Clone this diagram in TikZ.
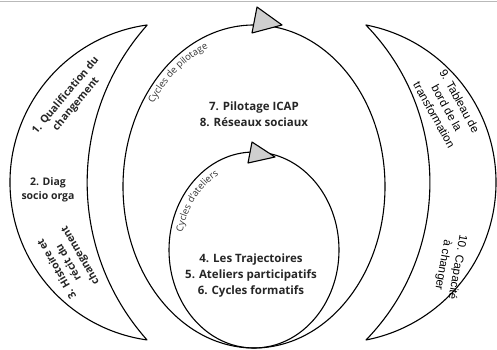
\documentclass[tikz,border=0pt]{standalone}
\usepackage{fontspec}
\setmainfont{Open Sans}
\newfontfamily\arialfont{Liberation Sans}
\usetikzlibrary{decorations.text}
\definecolor{arrowgray}{HTML}{CFCFCF}
\begin{document}
\begin{tikzpicture}[x=1pt,y=1pt,
  shape line/.style={draw=black, line width=1.1pt, line join=round},
  tri/.style={draw=black, fill=arrowgray, line width=1.1pt, line join=round},
  boldlabel/.style={font=\fontsize{10.5}{13.5}\selectfont\bfseries, align=center, inner sep=0pt, text=black!85},
  midlabel/.style={font=\fontsize{11.5}{16}\selectfont\bfseries, align=center, inner sep=0pt, text=black!85},
  arlabel/.style={font=\arialfont\fontsize{11.5}{14.5}\selectfont, align=center, inner sep=0pt},
  cyc/.style={decorate, decoration={text along path, text align=left, raise=0pt}}
]
\useasboundingbox (0,0) rectangle (497,350);
% top gray rule
\draw[gray!55, line width=1.5pt] (0,348.6) -- (497,348.6);
% left crescent
\draw[shape line] (147,325) arc[start angle=97.95, end angle=262.05, radius=159]
  arc[start angle=221.66, end angle=138.34, radius=236.7] -- cycle;
% right crescent
\draw[shape line] (366,325) arc[start angle=79.07, end angle=-79.07, radius=160.4]
  arc[start angle=-44.2, end angle=44.2, radius=225.8] -- cycle;
% big ellipse
\draw[shape line] (254,163.5) ellipse[x radius=131, y radius=161.5];
% small ellipse
\draw[shape line] (254,100) ellipse[x radius=85, y radius=98];
% arrow triangles
\draw[tri] (257,343) -- (282,325) -- (252,317) -- cycle;
\draw[tri] (252,208) -- (275,193) -- (248,187) -- cycle;
% curved labels
\path[cyc, decoration={text={|\fontsize{9.5}{11}\selectfont\color{black!80}|Cycles de pilotage}}]
  (153.5,246.2) arc[start angle=146, end angle=70, x radius=121, y radius=151.5];
\path[cyc, decoration={text={|\fontsize{9.5}{11}\selectfont\color{black!80}|Cycles d'ateliers}}]
  (182.6,117.9) arc[start angle=168, end angle=85, x radius=73, y radius=86];
% texts
\node[boldlabel, rotate=50] (t1) at (71,250) {1. Qualification du\\changement};
\node[boldlabel] (t2) at (48,160) {2. Diag\\socio orga};
\node[boldlabel, rotate=120] (t3) at (69,88) {3. Histoire et\\récit du\\changement};
\node[midlabel] (t7) at (254,236) {7. Pilotage ICAP\\8. Réseaux sociaux};
\node[midlabel] (t4) at (251,74) {4. Les Trajectoires\\5. Ateliers participatifs\\6. Cycles formatifs};
\node[arlabel, rotate=-61] (t9) at (447,242) {9. Tableau de\\bord de la\\transformation};
\node[arlabel, rotate=-100] (t10) at (450,84) {10. Capacité\\à changer};
\end{tikzpicture}
\end{document}
